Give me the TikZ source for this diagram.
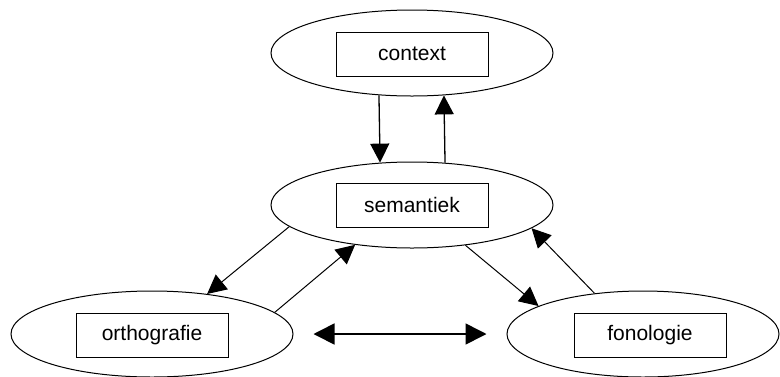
\documentclass[tikz,border=0pt]{standalone}
\usepackage{fontspec}
\setmainfont{Liberation Sans}
\usetikzlibrary{shapes.geometric,arrows.meta}
\begin{document}
\begin{tikzpicture}[x=1pt,y=-1pt,
  level/.style={ellipse,draw,line width=1pt,minimum width=282pt,minimum height=86pt,inner sep=0pt},
  namebox/.style={rectangle,draw,line width=1pt,minimum width=152pt,minimum height=44pt,inner sep=0pt,font=\fontsize{21}{25}\selectfont},
  link/.style={-{Triangle[length=19pt,width=19pt]},line width=1pt},
]
\useasboundingbox (0,0) rectangle (780,376);
\clip (0,0) rectangle (780,376);

% the four levels
\node[level] (ctxE) at (412,53) {};
\node[level] (semE) at (412,205) {};
\node[level] (ortE) at (152,334) {};
\node[level,minimum width=272pt] (fonE) at (643,334) {};

\node[namebox] (ctx) at (412,54) {context};
\node[namebox] (sem) at (412,205) {semantiek};
\node[namebox] (ort) at (152,335) {orthografie};
\node[namebox] (fon) at (650,335) {fonologie};

% context <-> semantiek
\draw[link,line width=1.3pt] (ctxE.232.6) -- (semE.127.4);
\draw[link,line width=1.3pt] (semE.52.6) -- (ctxE.307.4);

% semantiek <-> orthografie
\draw[link] (semE.190) -- (ortE.36.3);
\draw[link] (ortE.10) -- (semE.215.8);

% semantiek <-> fonologie
\draw[link] (semE.323.1) -- (fonE.165);
\draw[link] (fonE.140) -- (semE.349.3);

% orthografie <-> fonologie
\draw[{Triangle[length=21pt,width=21pt]}-{Triangle[length=21pt,width=21pt]},line width=1.6pt,
  shorten <=20pt,shorten >=20pt] (ortE.east) -- (fonE.west);
\end{tikzpicture}
\end{document}
